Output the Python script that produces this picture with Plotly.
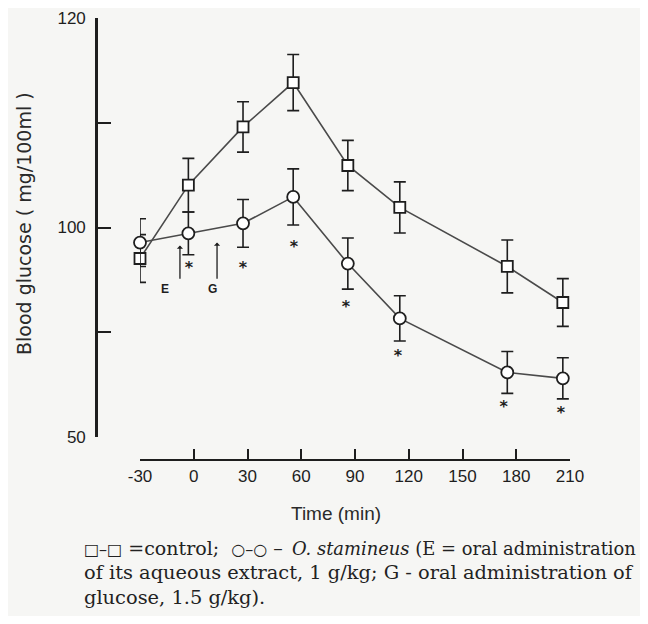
import plotly.graph_objects as go

# ---- data ----
time_min = [-30, -3, 27.5, 55.5, 86, 115, 175, 206]
control = [92.6, 110.1, 124.0, 134.6, 114.8, 104.8, 90.7, 82.1]
control_err = [5.7, 6.4, 6.0, 6.7, 6.0, 6.1, 6.3, 5.7]
extract = [96.4, 98.6, 101.0, 107.3, 91.4, 78.3, 65.4, 64.0]
extract_err = [5.7, 5.1, 5.7, 6.7, 6.1, 5.4, 5.0, 4.9]
star_x = [-2.7, 27.5, 55.9, 85, 114, 173, 205]
star_y = [90.2, 90.2, 95.2, 80.7, 69.0, 57.0, 55.6]
x_ticks = [-30, 0, 30, 60, 90, 120, 150, 180, 210]
y_tickvals = [50, 75, 100, 125, 150]
y_ticktext = ["50", "", "100", "", "120"]
arrow_E = (-7.7, 87.4, 95.7)   # x, bottom, top
arrow_G = (13.0, 87.4, 96.4)

INK = "#1e1e1e"
LINE = "#4a4a4a"
BG = "#f6f6f4"

fig = go.Figure()

fig.add_trace(go.Scatter(
    x=time_min, y=control, mode="lines+markers",
    line=dict(color=LINE, width=1.6),
    marker=dict(symbol="square", size=11, color="white", line=dict(color=INK, width=1.8)),
    error_y=dict(type="data", array=control_err, color=INK, thickness=1.6, width=6),
    cliponaxis=False, showlegend=False))

fig.add_trace(go.Scatter(
    x=time_min, y=extract, mode="lines+markers",
    line=dict(color=LINE, width=1.6),
    marker=dict(symbol="circle", size=12, color="white", line=dict(color=INK, width=1.8)),
    error_y=dict(type="data", array=extract_err, color=INK, thickness=1.6, width=6),
    cliponaxis=False, showlegend=False))

fig.add_trace(go.Scatter(
    x=star_x, y=star_y, mode="text", text=["<b>*</b>"] * len(star_x),
    textposition="middle center",
    textfont=dict(family="DejaVu Sans", size=16, color=INK),
    cliponaxis=False, showlegend=False))

for (ax_x, y0, y1), lab, lab_dx in [(arrow_E, "E", -8.5), (arrow_G, "G", -2.8)]:
    fig.add_annotation(x=ax_x, y=y1, ax=ax_x, ay=y0, xref="x", yref="y",
                       axref="x", ayref="y", text="", showarrow=True,
                       arrowhead=1, arrowsize=0.8, arrowwidth=1.3, arrowcolor=INK)
    fig.add_annotation(x=ax_x + lab_dx, y=y0 - 2.0, xref="x", yref="y", text="<b>" + lab + "</b>",
                       showarrow=False, font=dict(family="Liberation Sans", size=12, color=INK))

# plot area: paper spans 479 x 442 px
PW, PH = 479, 442
FW, FH = 640, 608

fig.update_xaxes(
    range=[-30, 210], domain=[44 / PW, 474 / PW], anchor="free", position=0,
    tickvals=x_ticks, ticktext=[str(v) for v in x_ticks], automargin=False,
    ticks="inside", ticklen=10, tickwidth=1.8, tickcolor=INK,
    showline=True, linecolor=INK, linewidth=2.2, showgrid=False, zeroline=False,
    tickfont=dict(family="Liberation Sans", size=17, color=INK))

fig.update_yaxes(
    range=[50, 150], domain=[23 / PH, 1], anchor="free", position=0,
    tickvals=y_tickvals, ticktext=y_ticktext, automargin=False,
    ticks="inside", ticklen=13, tickwidth=1.8, tickcolor=INK,
    showline=True, linecolor=INK, linewidth=2.6, showgrid=False, zeroline=False,
    ticklabelstandoff=6,
    tickfont=dict(family="Liberation Sans", size=17, color=INK))

def px_x(p):
    return (p - 96) / PW

def px_y(p):
    return (460 - p) / PH

# y-axis title
fig.add_annotation(x=px_x(24), y=px_y(224), xref="paper", yref="paper",
                   xanchor="center", yanchor="middle",
                   text="Blood glucose ( mg/100ml )", textangle=-90, showarrow=False,
                   font=dict(family="DejaVu Sans", size=19, color="#2a2a2a"))
# x-axis title
fig.add_annotation(x=px_x(336), y=px_y(513), xref="paper", yref="paper",
                   text="Time (min)", showarrow=False, xanchor="center", yanchor="middle",
                   font=dict(family="Liberation Sans", size=19, color="#2a2a2a"))

SERIF = "DejaVu Serif"
cap_parts = [
    (82, 548, '<span style="font-size:16px">□–□</span> =control;  <span style="font-size:16px">○–○</span> –', 19),
    (290, 548, "<i>O.</i> <i>stamineus</i> (E = oral administration", 17.9),
    (82, 572.5, "of its aqueous extract, 1 g/kg; G - oral administration of", 19.4),
    (82, 597, "glucose, 1.5 g/kg).", 19.4),
]
for x0, y0, txt, fs in cap_parts:
    fig.add_annotation(x=px_x(x0), y=px_y(y0), xref="paper", yref="paper",
                       xanchor="left", yanchor="middle", text=txt, showarrow=False,
                       align="left", font=dict(family=SERIF, size=fs, color="#222"))

# the page body adds an 8 px offset, so the figure is smaller and shifted
fig.update_layout(
    width=FW, height=FH, paper_bgcolor=BG, plot_bgcolor=BG,
    margin=dict(l=88, r=FW - 88 - PW, t=10, b=FH - 10 - PH))

fig.write_html("out.html")
